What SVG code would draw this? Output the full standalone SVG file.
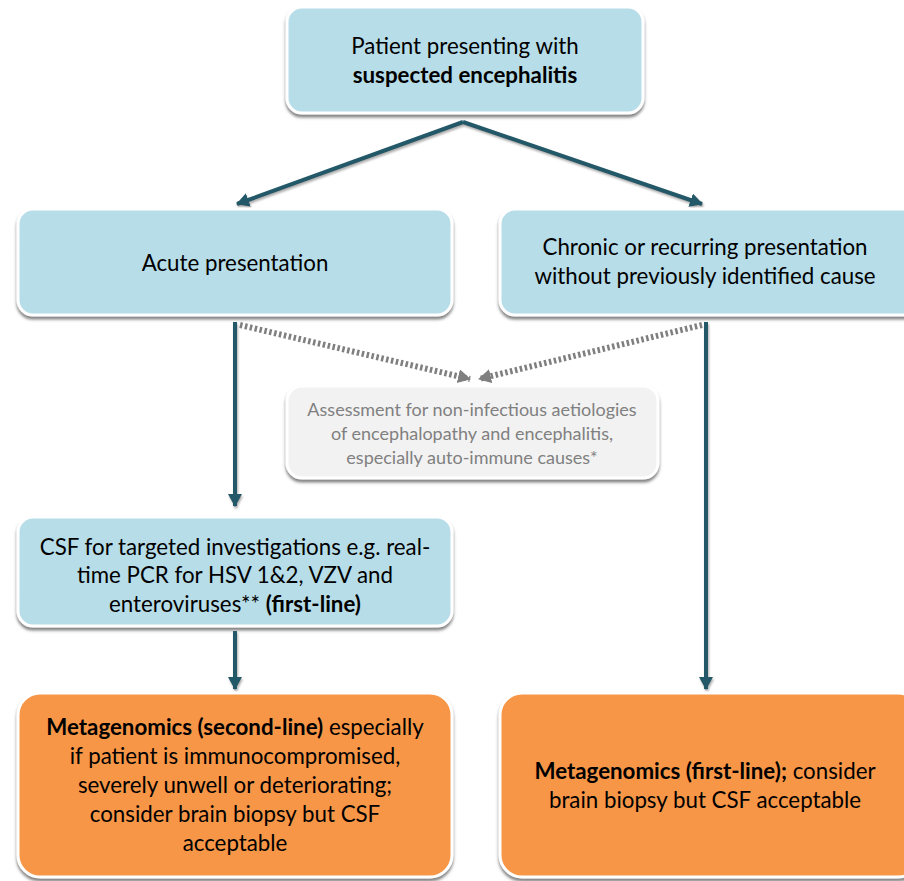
<svg xmlns="http://www.w3.org/2000/svg" width="904" height="881" viewBox="0 0 904 881">
<defs>
<filter id="sh" x="-10%" y="-10%" width="120%" height="130%">
<feDropShadow dx="0" dy="3" stdDeviation="1.6" flood-color="#5a5a5a" flood-opacity="0.75"/>
</filter>
<filter id="lsh" filterUnits="userSpaceOnUse" x="0" y="0" width="904" height="881">
<feDropShadow dx="1" dy="2" stdDeviation="1" flood-color="#777" flood-opacity="0.6"/>
</filter>
<marker id="ah" markerUnits="userSpaceOnUse" markerWidth="16" markerHeight="16" refX="12" refY="7" orient="auto">
<path d="M0,0 L13,7 L0,14 Z" fill="#215968"/>
</marker>
<marker id="ahg" markerUnits="userSpaceOnUse" markerWidth="16" markerHeight="16" refX="12" refY="7" orient="auto">
<path d="M0,0 L13,7 L0,14 Z" fill="#7f7f7f"/>
</marker>
</defs>
<style>
.box{fill:#b7dde8;stroke:#fff;stroke-width:3;filter:url(#sh)}
.grey{fill:#f2f2f2;stroke:#fff;stroke-width:3;filter:url(#sh)}
.orange{fill:#f79646;stroke:#fff;stroke-width:3;filter:url(#sh)}
text{font-family:"Lato","Open Sans",sans-serif;font-size:22.3px;fill:#000;text-anchor:middle}
.g{fill:#808080;font-size:18px}
.b{font-weight:bold}
.c{fill:none;stroke:#215968;stroke-width:4;marker-end:url(#ah);filter:url(#lsh)}
.d{fill:none;stroke:#7f7f7f;stroke-width:6;stroke-dasharray:2.5 2.5;marker-end:url(#ahg)}
</style>
<g id="connectors">
<line class="c" x1="463" y1="122" x2="237" y2="204"/>
<line class="c" x1="463" y1="122" x2="702" y2="204"/>
<line class="c" x1="235" y1="322" x2="235" y2="506"/>
<line class="c" x1="235" y1="631" x2="235" y2="689"/>
<line class="c" x1="706" y1="322" x2="706" y2="689"/>
<line class="d" x1="240" y1="325" x2="470" y2="379"/>
<line class="d" x1="702" y1="325" x2="479" y2="379"/>
</g>
<g id="n-top">
<rect class="box" x="287" y="7" width="356" height="106" rx="15"/>
<text x="465" y="54">Patient presenting with</text>
<text x="465" y="83" class="b">suspected encephalitis</text>
</g>
<g id="n-acute">
<rect class="box" x="18" y="209" width="434" height="106" rx="15"/>
<text x="235" y="271">Acute presentation</text>
</g>
<g id="n-chronic">
<rect class="box" x="500" y="209" width="420" height="106" rx="15"/>
<text x="705" y="255">Chronic or recurring presentation</text>
<text x="705" y="284">without previously identified cause</text>
</g>
<g id="n-assess">
<rect class="grey" x="287" y="386" width="371" height="92" rx="15"/>
<text x="472" y="416" class="g">Assessment for non-infectious aetiologies</text>
<text x="472" y="440" class="g">of encephalopathy and encephalitis,</text>
<text x="472" y="464" class="g">especially auto-immune causes*</text>
</g>
<g id="n-csf">
<rect class="box" x="18" y="517" width="434" height="109" rx="15"/>
<text x="235" y="555">CSF for targeted investigations e.g. real-</text>
<text x="235" y="583">time PCR for HSV 1&amp;2, VZV and</text>
<text x="235" y="612">enteroviruses** <tspan class="b">(first-line)</tspan></text>
</g>
<g id="n-meta2">
<rect class="orange" x="18" y="693" width="434" height="184" rx="22"/>
<text x="235" y="735"><tspan class="b">Metagenomics (second-line)</tspan> especially</text>
<text x="235" y="764">if patient is immunocompromised,</text>
<text x="235" y="793">severely unwell or deteriorating;</text>
<text x="235" y="822">consider brain biopsy but CSF</text>
<text x="235" y="851">acceptable</text>
</g>
<g id="n-meta1">
<rect class="orange" x="500" y="693" width="420" height="184" rx="22"/>
<text x="705" y="779"><tspan class="b">Metagenomics (first-line);</tspan> consider</text>
<text x="705" y="808">brain biopsy but CSF acceptable</text>
</g>
</svg>
